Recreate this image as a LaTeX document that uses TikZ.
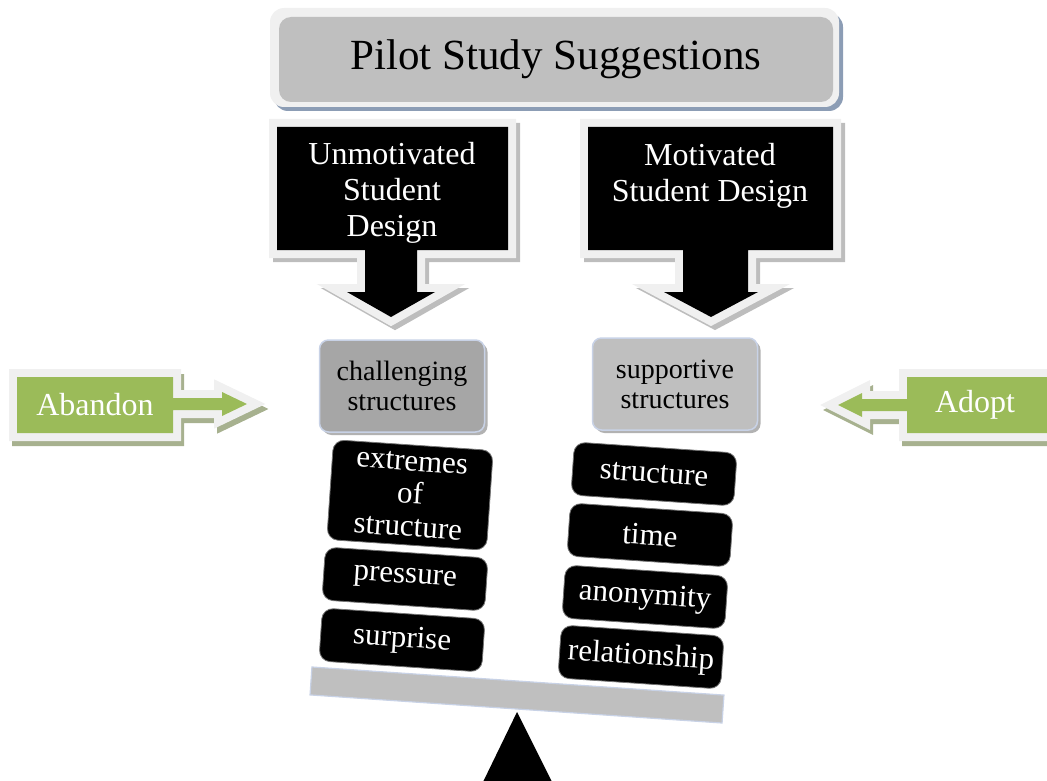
\documentclass[tikz,border=0pt]{standalone}
\usepackage{fontspec}
\setmainfont{Liberation Serif}
\usetikzlibrary{shadows}

\definecolor{framegray}{HTML}{F0F0F0}
\definecolor{panelgray}{HTML}{BFBFBF}
\definecolor{darkpanel}{HTML}{A6A6A6}
\definecolor{steelshadow}{HTML}{8C9DB5}
\definecolor{edgeblue}{HTML}{C8D2E6}
\definecolor{leaf}{HTML}{9BBB59}
\definecolor{leafshadow}{HTML}{A7B18F}
\definecolor{calloutshadow}{HTML}{BDBDBD}

\newcommand{\fs}[2]{\fontsize{#1}{#2}\selectfont}

\tikzset{
  calloutshape/.style={fill=black, line join=miter, miter limit=5,
    preaction={draw=calloutshadow, fill=calloutshadow, line width=16,
      transform canvas={xshift=4pt, yshift=-4pt}},
    preaction={draw=framegray, line width=16}},
  leafshape/.style={fill=leaf, line join=miter, miter limit=3,
    preaction={draw=leafshadow, fill=leafshadow, line width=16,
      transform canvas={xshift=3pt, yshift=-5pt}},
    preaction={draw=framegray, line width=16}},
  calloutlabel/.style={text=white, align=center, inner sep=0,
    font=\fs{32}{36}},
  leaflabel/.style={text=white, inner sep=0, font=\fs{32}{36}},
  structbox/.style={rectangle, rounded corners=9, draw=edgeblue, line width=1.5,
    minimum width=165, minimum height=92, align=center, inner sep=0,
    font=\fs{28}{30},
    drop shadow={shadow xshift=3pt, shadow yshift=-3pt, opacity=0.3, fill=black}},
  brick/.style={rectangle, rounded corners=11, fill=black, draw=black!55,
    line width=0.8, text=white, align=center, inner sep=0,
    font=\fs{31}{33},
    minimum width=163, minimum height=53, rotate=-3.9},
}

\begin{document}
\begin{tikzpicture}[x=1pt, y=-1pt]
\useasboundingbox (0,0) rectangle (1047,781);
\clip (0,0) rectangle (1047,781);

% heading panel
\fill[steelshadow, rounded corners=14] (274,13) rectangle (843,111);
\fill[framegray, rounded corners=14] (270,8) rectangle (839,107);
\node[rectangle, rounded corners=12, fill=panelgray, minimum width=554,
  minimum height=85, inner sep=0, font=\fs{43}{46}] (title) at (556,59.5)
  {Pilot Study Suggestions};

% downward callouts
\path[calloutshape] (277,127) -- (508,127) -- (508,250) -- (417,250)
  -- (417,292) -- (435,292) -- (391,317) -- (347,292) -- (365,292)
  -- (365,250) -- (277,250) -- cycle;
\node[calloutlabel] (unmot) at (392,193) {Unmotivated\\Student\\Design};

\path[calloutshape] (588,127) -- (833,127) -- (833,250) -- (748,250)
  -- (748,292) -- (758,292) -- (711,317) -- (664,292) -- (683,292)
  -- (683,250) -- (588,250) -- cycle;
\node[calloutlabel] (mot) at (710,176) {Motivated\\Student Design};

% side arrows
\path[leafshape] (17,377) -- (173,377) -- (173,398) -- (222,398)
  -- (222,392) -- (247,404) -- (222,416) -- (222,410) -- (173,410)
  -- (173,433) -- (17,433) -- cycle;
\node[leaflabel] (abandon) at (95,405) {Abandon};

\path[leafshape] (1060,377) -- (907,377) -- (907,399) -- (862,399)
  -- (862,393) -- (838,405) -- (862,417) -- (862,411) -- (907,411)
  -- (907,433) -- (1060,433) -- cycle;
\node[leaflabel] (adopt) at (975,405) {Adopt};

% structure headings
\node[structbox, fill=darkpanel] (chal) at (402,386) {challenging\\structures};
\node[structbox, fill=panelgray] (supp) at (675,384) {supportive\\structures};

% balance beam and fulcrum
\fill (517,712) -- (483,782) -- (552,782) -- cycle;
\node[rectangle, fill=panelgray, draw=edgeblue, line width=1.2,
  minimum width=413, minimum height=28, rotate=-3.9] (beam) at (517,695) {};

% left stack
\node[brick, minimum width=160, minimum height=100] (extremes) at (410,495)
  {extremes\\of\\structure};
\node[brick] (pressure) at (405,579) {pressure};
\node[brick] (surprise) at (402,640) {surprise};

% right stack
\node[brick] (structure) at (654,474) {structure};
\node[brick] (time) at (650,535) {time};
\node[brick] (anon) at (645,597) {anonymity};
\node[brick] (relation) at (641,657) {relationship};
\end{tikzpicture}
\end{document}
